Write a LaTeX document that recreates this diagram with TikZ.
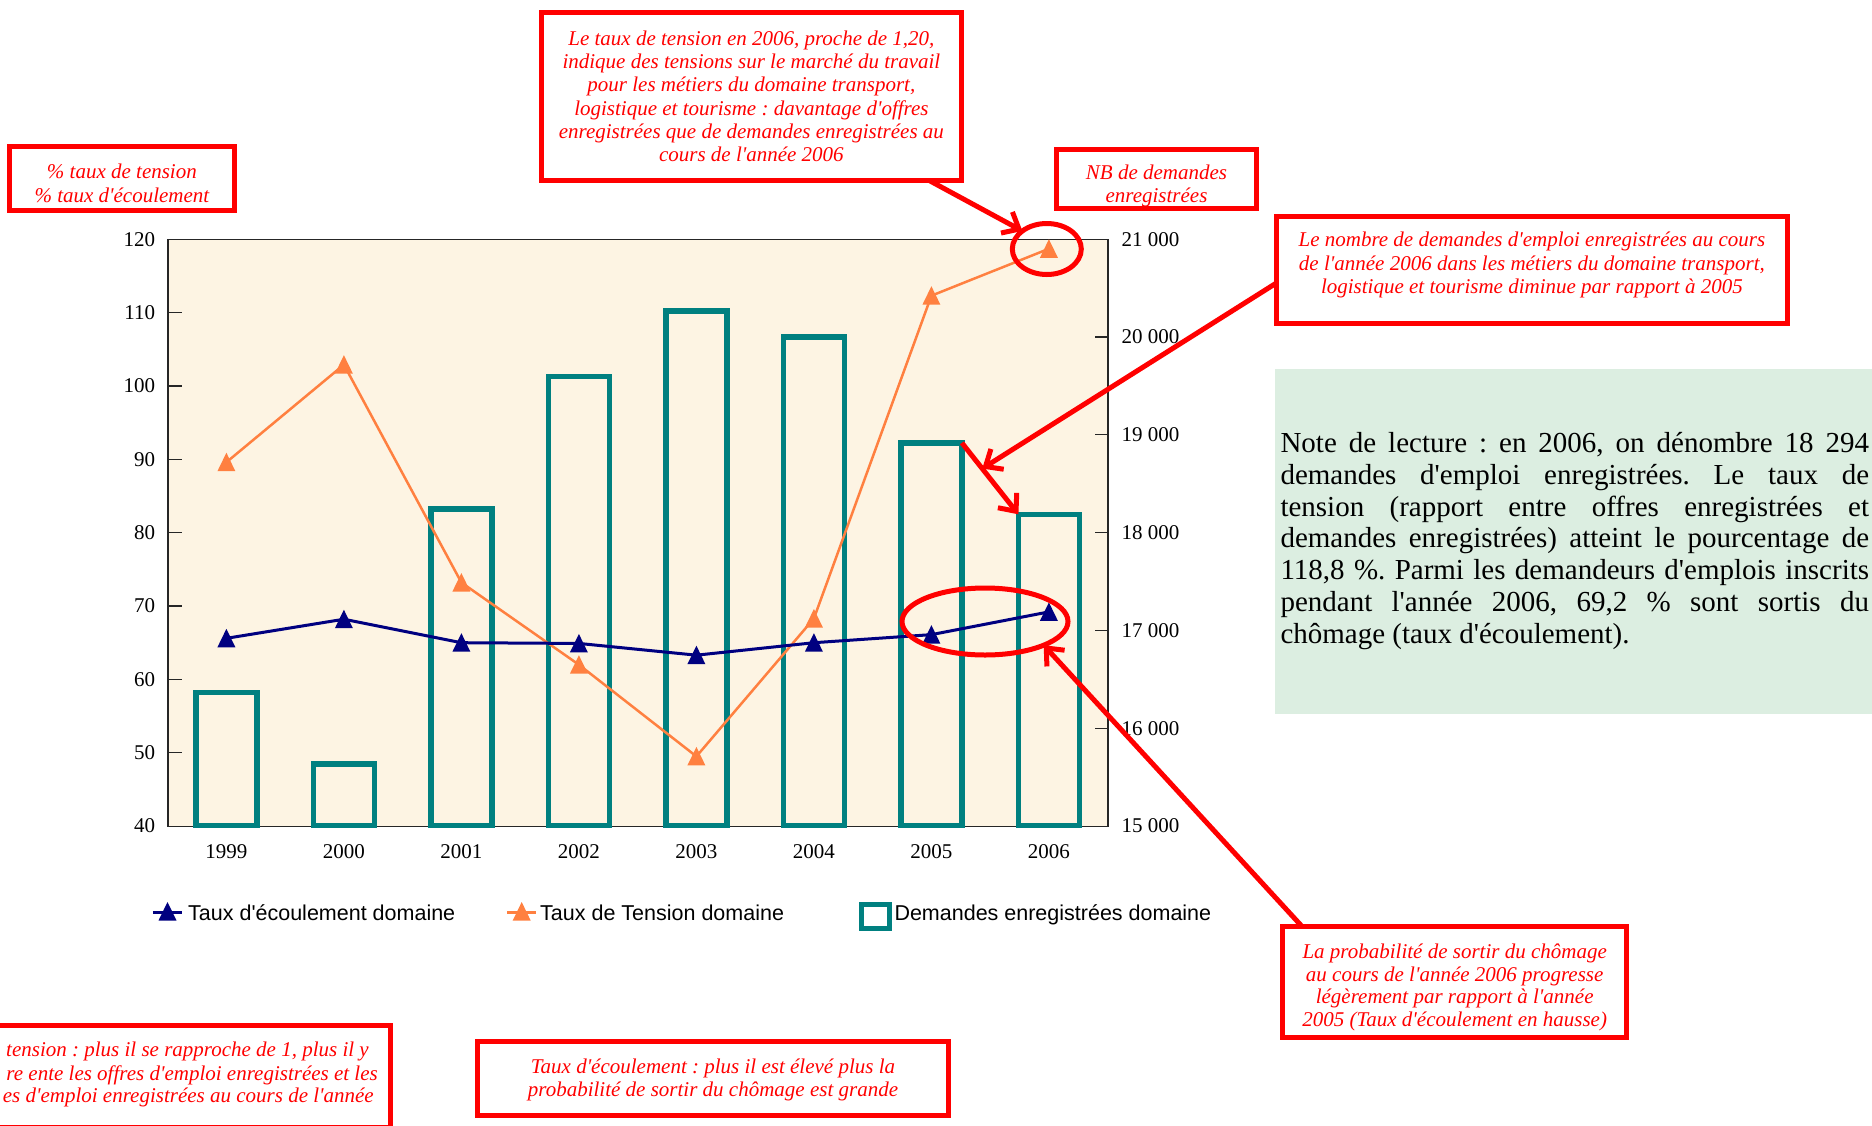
\documentclass[tikz,border=0pt]{standalone}
\usepackage{fontspec}
\setmainfont{Liberation Serif}
\newfontfamily\tnr{Liberation Serif}
\newfontfamily\arialfont{Liberation Sans}
\usetikzlibrary{arrows.meta,shapes.geometric,calc}
\definecolor{redC}{RGB}{255,0,0}
\definecolor{tealC}{RGB}{0,128,128}
\definecolor{navyC}{RGB}{0,0,128}
\definecolor{orangeC}{RGB}{255,128,64}
\definecolor{creamC}{RGB}{253,244,227}
\definecolor{greenC}{RGB}{220,238,225}
\frenchspacing
\newcommand\redfont{\tnr\fontsize{21}{23.3}\selectfont\itshape}
\newcommand\tickfont{\tnr\fontsize{21}{24}\selectfont}
\newcommand\legfont{\arialfont\fontsize{21.5}{25}\selectfont}
\newcommand\notefont{\tnr\fontsize{29}{31.9}\selectfont\frenchspacing\tolerance=10000\hyphenpenalty=10000\relax}
\begin{document}
\begin{tikzpicture}[x=1pt,y=-1pt,
  redbox/.style={draw=redC, line width=5pt, inner sep=0pt, outer sep=0pt, fill=white},
  redtxt/.style={text=redC, font=\redfont, align=center, inner sep=0pt},
  redarrow/.style={draw=redC, line width=5pt, -{Straight Barb[length=14pt,width=24pt]}},
  redell/.style={ellipse, draw=redC, line width=5pt, inner sep=0pt, outer sep=0pt},
  barbox/.style={draw=tealC, line width=5.5pt, inner sep=0pt, outer sep=0pt, minimum width=61pt, anchor=south},
  ticklab/.style={font=\tickfont, inner sep=0pt},
  legtxt/.style={font=\legfont, inner sep=0pt, anchor=base west},
  axisline/.style={draw=black!85, line width=1.2pt},
  navyline/.style={draw=navyC, line width=3pt},
  orangeline/.style={draw=orangeC, line width=2.5pt},
  tri/.pic={\path[pic actions] (-9,9) -- (9,9) -- (0,-9.5) -- cycle;}
]
\useasboundingbox (0,0) rectangle (1872,1125);
\clip (0,0) rectangle (1872,1125);

% plot area
\draw[axisline, fill=creamC] (167.9,239.2) rectangle (1107.9,826.1);
\foreach \k [evaluate=\k as \lab using int(40+10*\k)] in {0,...,8} {
  \draw[axisline] (167.9,{826.1-\k*73.36}) -- ++(13.6,0);
  \node[ticklab, anchor=east] (l\k) at (155.4,{826.1-\k*73.36}) {\lab};
}
\foreach \lab [count=\k from 0] in {15 000,16 000,17 000,18 000,19 000,20 000,21 000} {
  \draw[axisline] (1107.9,{826.1-\k*97.82}) -- ++(-13.4,0);
  \node[ticklab, anchor=west] (r\k) at (1121.4,{826.1-\k*97.82}) {\lab};
}
\foreach \yr [count=\i] in {1999,2000,2001,2002,2003,2004,2005,2006}
  \node[ticklab] (yr\i) at ({226.4+117.5*(\i-1)},851.7) {\yr};

% bars
\foreach \h [count=\i] in {132.8,61.3,316.4,449.1,514.4,488.7,382.6,311.2}
  \node[barbox, minimum height=\h pt] (b\i) at ({226.4+117.5*(\i-1)},825.5) {};

% series
\foreach \v [count=\i] in {89.6,102.9,73.2,62.0,49.5,68.3,112.3,118.7}
  \coordinate (t\i) at ({226.4+117.5*(\i-1)},{826.1-(\v-40)*7.336});
\foreach \v [count=\i] in {65.6,68.2,65.0,64.9,63.3,65.0,66.1,69.2}
  \coordinate (e\i) at ({226.4+117.5*(\i-1)},{826.1-(\v-40)*7.336});
\draw[orangeline] (t1) \foreach \i in {2,...,8} {-- (t\i)};
\draw[navyline] (e1) \foreach \i in {2,...,8} {-- (e\i)};
\foreach \i in {1,...,8} {
  \pic[fill=orangeC] at (t\i) {tri};
  \pic[fill=navyC] at (e\i) {tri};
}

% legend
\coordinate (la1) at (152.8,912.7);
\coordinate (la2) at (182.1,912.7);
\draw[navyline] (la1) -- (la2);
\pic[fill=navyC] at (167.5,911.5) {tri};
\node[legtxt] (leg1) at (188,920) {Taux d'écoulement domaine};
\coordinate (lb1) at (507,912.7);
\coordinate (lb2) at (536,912.7);
\draw[orangeline] (lb1) -- (lb2);
\pic[fill=orangeC] at (521.7,911.5) {tri};
\node[legtxt] (leg2) at (540,920) {Taux de Tension domaine};
\node[draw=tealC, line width=5pt, minimum width=28pt, minimum height=24pt, inner sep=0pt, outer sep=0pt] (legsq) at (875.5,916.2) {};
\node[legtxt] (leg3) at (894.3,920) {Demandes enregistrées domaine};

% green note
\node[fill=greenC, anchor=north west, inner xsep=5.5pt, inner ysep=0pt, minimum height=345pt,
      text width=588.6pt, align=justify, font=\notefont] (note) at (1274.8,368.3)
 {Note de lecture : en 2006, on dénombre 18~294\linebreak
  demandes d'emploi enregistrées. Le taux de\linebreak
  tension (rapport entre offres enregistrées et\linebreak
  demandes enregistrées) atteint le pourcentage de\linebreak
  118,8~\%. Parmi les demandeurs d'emplois inscrits\linebreak
  pendant l'année 2006, 69,2 \% sont sortis du\linebreak
  chômage (taux d'écoulement).};

% red boxes
\node[redbox, minimum width=225.3pt, minimum height=64.3pt] (boxA) at (121.9,178.7) {};
\node[redtxt] (txtA) at (121.9,183.3) {\% taux de tension\\\% taux d'écoulement};
\node[redbox, minimum width=420.7pt, minimum height=167.7pt] (boxB) at (751.4,96.4) {};
\node[redtxt] (txtB) at (751.4,96.2) {Le taux de tension en 2006, proche de 1,20,\\indique des tensions sur le marché du travail\\pour les métiers du domaine transport,\\logistique et tourisme : davantage d'offres\\enregistrées que de demandes enregistrées au\\cours de l'année 2006};
\node[redbox, minimum width=200.3pt, minimum height=59pt] (boxC) at (1156.5,178.7) {};
\node[redtxt] (txtC) at (1156.5,186) {NB de demandes\\enregistrées};
\node[redbox, minimum width=510.7pt, minimum height=106.7pt] (boxD) at (1531.9,269.9) {};
\node[redtxt] (txtD) at (1531.9,265) {Le nombre de demandes d'emploi enregistrées au cours\\de l'année 2006 dans les métiers du domaine transport,\\logistique et tourisme diminue par rapport à 2005};
\node[redbox, minimum width=344.3pt, minimum height=111pt] (boxE) at (1454.7,982) {};
\node[redtxt, font=\tnr\fontsize{21}{22.8}\selectfont\itshape] (txtE) at (1454.7,987.5) {La probabilité de sortir du chômage\\au cours de l'année 2006 progresse\\légèrement par rapport à l'année\\2005 (Taux d'écoulement en hausse)};
\node[redbox, minimum width=471pt, minimum height=74pt] (boxF) at (713,1078.8) {};
\node[redtxt] (txtF) at (713,1080) {Taux d'écoulement : plus il est élevé plus la\\probabilité de sortir du chômage est grande};
\node[redbox, anchor=north east, minimum width=410pt, minimum height=102pt] (boxG) at (390,1025.2) {};
\node[redtxt, anchor=east] (txtG1) at (369,1051.7) {tension : plus il se rapproche de 1, plus il y};
\node[redtxt, anchor=east] (txtG2) at (378,1075) {re ente les offres d'emploi enregistrées et les};
\node[redtxt, anchor=east] (txtG3) at (374,1097.7) {es d'emploi enregistrées au cours de l'année};

% ellipses and arrows
\node[redell, minimum width=69pt, minimum height=51pt] (ell1) at (1046.8,249) {};
\node[redell, minimum width=166pt, minimum height=67pt] (ell2) at (985,621.5) {};
\coordinate (hit) at ($(b7.north east)!0.36!(b8.north west)$);
\draw[redarrow] ([xshift=-33pt]boxB.south east) -- (ell1.north west);
\draw[redarrow] (b7.north east) -- (b8.north west);
\draw[redarrow] ([yshift=-13pt]boxD.west) -- (hit);
\draw[redarrow] ([xshift=19.5pt]boxE.north west) -- (ell2.south east);
\end{tikzpicture}
\end{document}
